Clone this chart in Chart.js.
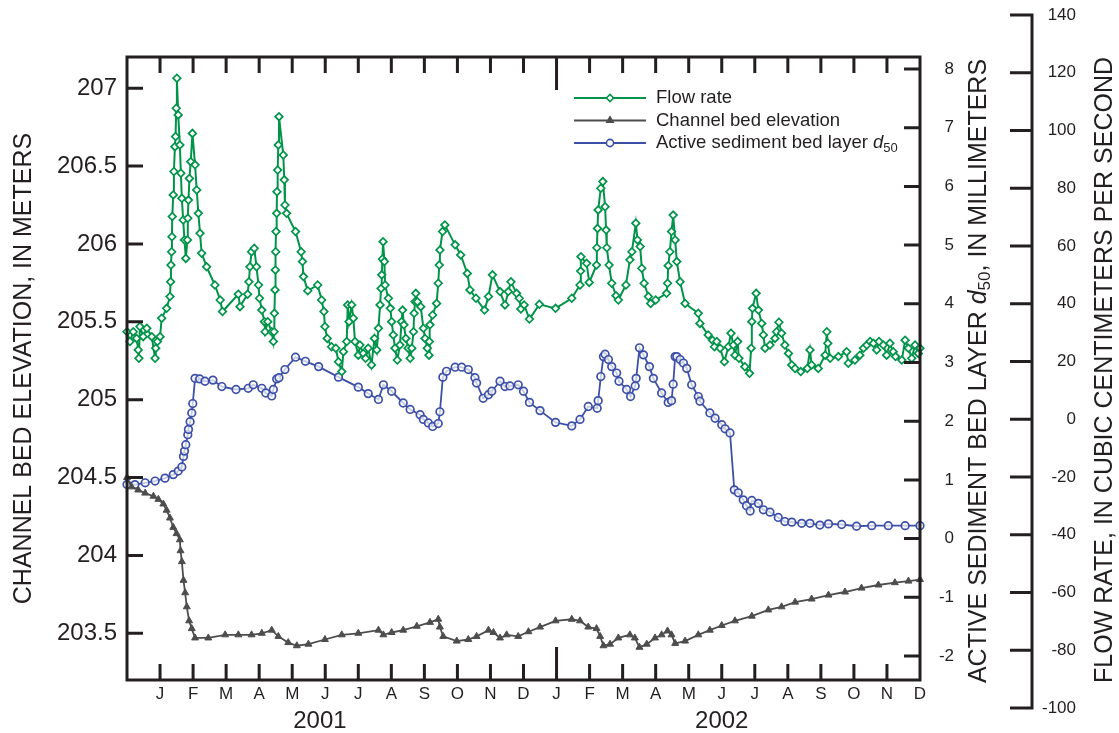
<!DOCTYPE html>
<html>
<head>
<meta charset="utf-8">
<title>Flow rate, channel bed elevation and active layer d50</title>
<script src="https://cdn.jsdelivr.net/npm/chart.js@4.4.1/dist/chart.umd.min.js"></script>
<style>
  html, body { margin: 0; padding: 0; background: #fff; }
  #wrap { width: 1119px; height: 733px; }
</style>
</head>
<body>
<div id="wrap"><canvas id="bedChart" width="1119" height="733"></canvas></div>
<script>
const ink = '#231f20';
const green = '#009449';
const grey = '#4d4d4d';
const blue = '#3d50a8';
const family = '"Liberation Sans", Arial, Helvetica, sans-serif';

Chart.defaults.color = ink;
Chart.defaults.font.family = family;

// x values are months counted from 1 December 2000
const monthTicks = [1, 2, 3, 4, 5, 6, 7, 8, 9, 10, 11, 12, 13, 14, 15, 16, 17, 18, 19, 20, 21, 22, 23, 24];
const monthLetters = ['J', 'F', 'M', 'A', 'M', 'J', 'J', 'A', 'S', 'O', 'N', 'D',
                      'J', 'F', 'M', 'A', 'M', 'J', 'J', 'A', 'S', 'O', 'N', 'D'];
const yearLabels = ['2001', '2002'];
const yearCentres = [5.84, 18.0];

const elevTicks = [203.5, 204, 204.5, 205, 205.5, 206, 206.5, 207];
const d50Ticks = [-2, -1, 0, 1, 2, 3, 4, 5, 6, 7, 8];
const flowTicks = [-100, -80, -60, -40, -20, 0, 20, 40, 60, 80, 100, 120, 140];

// Flow rate, cm3/s
const flowMonth = [
  0.0, 0.09, 0.19, 0.29, 0.34, 0.36, 0.39, 0.49, 0.6, 0.75, 0.85, 0.87, 0.92, 1.0, 1.05, 1.2, 1.3,
  1.32, 1.33, 1.35, 1.36, 1.37, 1.4, 1.42, 1.45, 1.47, 1.49, 1.51, 1.55, 1.6, 1.63, 1.66, 1.7, 1.74,
  1.78, 1.83, 1.84, 1.86, 1.89, 1.93, 1.98, 2.06, 2.11, 2.16, 2.21, 2.26, 2.41, 2.66, 2.82, 2.89,
  3.37, 3.42, 3.65, 3.69, 3.72, 3.77, 3.85, 3.92, 3.98, 4.01, 4.08, 4.16, 4.18, 4.26, 4.38, 4.43,
  4.45, 4.46, 4.48, 4.49, 4.5, 4.51, 4.53, 4.54, 4.56, 4.58, 4.6, 4.73, 4.76, 4.78, 4.83, 5.1, 5.27,
  5.31, 5.34, 5.47, 5.77, 5.89, 5.96, 5.99, 6.06, 6.19, 6.32, 6.4, 6.5, 6.55, 6.65, 6.68, 6.72, 6.8,
  6.85, 6.9, 7.0, 7.05, 7.15, 7.22, 7.3, 7.4, 7.49, 7.56, 7.61, 7.66, 7.69, 7.71, 7.73, 7.75, 7.79,
  7.81, 7.91, 7.97, 8.01, 8.06, 8.11, 8.18, 8.26, 8.31, 8.34, 8.38, 8.44, 8.51, 8.57, 8.62, 8.67,
  8.69, 8.72, 8.74, 8.79, 8.89, 8.97, 9.02, 9.09, 9.14, 9.15, 9.17, 9.25, 9.37, 9.42, 9.45, 9.47,
  9.55, 9.62, 9.93, 10.1, 10.3, 10.38, 10.56, 10.82, 10.94, 11.06, 11.29, 11.44, 11.54, 11.62,
  11.79, 11.87, 11.92, 12.02, 12.18, 12.48, 12.97, 13.46, 13.71, 13.73, 13.74, 13.91, 13.99, 14.21,
  14.22, 14.24, 14.26, 14.34, 14.4, 14.47, 14.5, 14.52, 14.59, 14.67, 14.8, 14.87, 15.1, 15.22,
  15.28, 15.4, 15.45, 15.53, 15.58, 15.65, 15.78, 15.85, 16.0, 16.33, 16.36, 16.38, 16.43, 16.48,
  16.53, 16.59, 16.64, 16.74, 16.89, 17.29, 17.34, 17.59, 17.72, 17.78, 17.85, 17.95, 18.08, 18.2,
  18.28, 18.35, 18.4, 18.48, 18.52, 18.7, 18.84, 18.89, 18.91, 18.93, 19.04, 19.11, 19.21, 19.26,
  19.31, 19.46, 19.61, 19.66, 19.73, 19.81, 19.91, 20.02, 20.12, 20.22, 20.39, 20.59, 20.67, 20.72,
  20.92, 21.13, 21.18, 21.21, 21.28, 21.53, 21.78, 21.83, 22.03, 22.18, 22.29, 22.39, 22.49, 22.59,
  22.69, 22.76, 22.89, 22.99, 23.09, 23.19, 23.26, 23.45, 23.55, 23.65, 23.75, 23.85, 23.95, 24.0
];
const flowRate = [
  30.3, 26.9, 30.3, 28.0, 24.0, 21.1, 32.1, 28.6, 31.5, 28.6, 21.1, 24.6, 26.9, 28.6, 35.0, 38.4, 42.5,
  47.6, 53.4, 58.0, 63.2, 70.2, 77.7, 85.8, 94.4, 97.9, 107.7, 118.1, 105.4, 95.0, 85.2, 76.5, 69.0, 62.1,
  55.7, 62.1, 69.6, 75.9, 83.4, 89.2, 99.0, 88.1, 79.4, 71.3, 64.4, 57.5, 52.8, 46.5, 41.3, 37.3,
  43.3, 39.0, 43.3, 47.6, 52.8, 58.0, 59.2, 52.8, 46.5, 41.9, 37.8, 33.8, 30.3, 33.8, 30.3, 26.9,
  30.3, 36.7, 44.8, 51.7, 58.0, 65.0, 71.3, 78.8, 86.3, 95.0, 104.8, 91.5, 82.9, 74.2, 71.3, 65.0, 58.0,
  54.6, 49.4, 44.5, 46.5, 41.3, 37.3, 32.1, 28.0, 25.1, 24.6, 19.9, 16.5, 23.4, 26.9, 39.6, 33.8, 39.6,
  35.0, 26.9, 22.2, 25.7, 22.8, 21.1, 24.6, 18.8, 28.0, 24.0, 31.5, 39.6, 45.3, 50.0, 55.5, 61.5, 54.6,
  46.5, 41.9, 38.4, 33.8, 29.2, 24.6, 20.5, 25.7, 33.8, 37.8, 32.7, 28.0, 24.6, 21.1, 24.6, 30.3,
  36.7, 40.7, 43.6, 40.7, 39.0, 31.5, 28.0, 24.6, 22.2, 26.9, 32.7, 36.1, 40.1, 47.1, 53.4, 58.6,
  65.0, 67.3, 60.4, 56.9, 50.5, 44.8, 41.9, 37.8, 42.5, 50.0, 44.2, 39.6, 44.2, 47.6,
  43.6, 41.9, 38.2, 39.6, 34.7, 39.8, 38.4, 41.9, 46.5, 51.3, 56.3, 54.0, 47.4, 53.4,
  59.4, 66.1, 72.5, 80.0, 82.3, 73.6, 65.5, 59.4, 53.4, 47.1, 42.8, 41.3, 46.5, 55.2,
  58.0, 67.9, 62.1, 59.8, 52.3, 47.1, 42.5, 40.1, 41.3, 43.6, 47.1, 53.2, 58.0, 65.0,
  70.7, 62.1, 54.6, 47.6, 40.1, 36.7, 33.2, 29.2, 27.4, 25.1, 26.9, 24.6, 19.9, 25.1,
  29.8, 25.7, 22.2, 26.9, 21.1, 18.2, 15.9, 24.6, 33.8, 38.4, 43.6, 37.8, 33.2, 29.2,
  24.6, 25.7, 28.0, 30.3, 33.6, 29.8, 25.7, 22.8, 18.8, 17.6, 16.5, 17.6, 24.0, 18.8,
  17.6, 22.2, 30.3, 26.3, 21.1, 21.7, 23.4, 19.4, 20.5, 22.2, 24.6, 25.7, 26.9, 26.3,
  24.0, 26.9, 25.7, 22.2, 26.3, 23.4, 21.7, 20.5, 27.4, 24.6, 21.1, 25.7, 22.8, 24.6
];

// Channel bed elevation, m
const elevMonth = [
  0.0, 0.14, 0.34, 0.55, 0.8, 0.95, 1.1, 1.2, 1.3, 1.4, 1.5, 1.6, 1.62, 1.66, 1.71, 1.76, 1.81, 1.88,
  1.96, 2.06, 2.46, 2.97, 3.37, 3.77, 4.08, 4.38, 4.58, 4.88, 5.14, 5.49, 5.99, 6.5, 7.0, 7.61, 7.76,
  8.01, 8.36, 8.77, 9.17, 9.42, 9.47, 9.57, 9.98, 10.33, 10.58, 10.94, 11.09, 11.29, 11.49, 11.84,
  12.15, 12.5, 12.97, 13.46, 13.71, 13.96, 14.21, 14.32, 14.42, 14.62, 14.87, 15.22, 15.37, 15.51,
  15.73, 15.98, 16.18, 16.36, 16.48, 16.59, 16.89, 17.29, 17.64, 18.0, 18.4, 18.91, 19.41, 19.81,
  20.22, 20.72, 21.23, 21.73, 22.23, 22.74, 23.24, 23.65, 24.0
];
const elevation = [
  204.50, 204.44, 204.42, 204.40, 204.38, 204.36, 204.33, 204.29, 204.24, 204.18, 204.14, 204.10,
  204.03, 203.96, 203.84, 203.76, 203.67, 203.58, 203.53, 203.47, 203.47, 203.49, 203.49, 203.49,
  203.50, 203.52, 203.48, 203.44, 203.42, 203.43, 203.46, 203.49, 203.50, 203.52, 203.49,
  203.505, 203.52, 203.545, 203.57, 203.59, 203.54, 203.48, 203.45, 203.46, 203.48, 203.52, 203.505,
  203.47, 203.49, 203.48, 203.51, 203.54, 203.58, 203.59, 203.58, 203.54, 203.53, 203.48, 203.42,
  203.43, 203.47, 203.49, 203.47, 203.41, 203.43, 203.47, 203.49, 203.515, 203.49, 203.435, 203.45,
  203.49, 203.52, 203.55, 203.58, 203.61, 203.65, 203.67, 203.70, 203.72, 203.745, 203.765, 203.79,
  203.81, 203.825, 203.835, 203.845
];

// Active sediment bed layer d50, mm
const d50Month = [
  0.0, 0.24, 0.55, 0.85, 1.15, 1.4, 1.55, 1.66, 1.71, 1.74, 1.78, 1.84, 1.86, 1.91, 1.96, 1.99, 2.06,
  2.2, 2.36, 2.6, 2.87, 3.3, 3.67, 3.82, 4.08, 4.2, 4.38, 4.43, 4.53, 4.6, 4.78, 5.1, 5.4, 5.8, 6.4,
  7.0, 7.3, 7.61, 7.76, 8.01, 8.36, 8.57, 8.87, 8.97, 9.12, 9.25, 9.42, 9.47, 9.56, 9.67, 9.93, 10.13,
  10.33, 10.53, 10.58, 10.78, 10.94, 11.04, 11.29, 11.44, 11.59, 11.84, 12.0, 12.18, 12.5, 12.97,
  13.46, 13.71, 13.96, 14.23, 14.26, 14.34, 14.42, 14.47, 14.57, 14.67, 14.82, 14.89, 15.12, 15.24,
  15.38, 15.41, 15.51, 15.63, 15.81, 15.93, 16.18, 16.38, 16.48, 16.53, 16.59, 16.64, 16.74, 16.84,
  16.94, 17.09, 17.29, 17.34, 17.64, 17.8, 18.0, 18.1, 18.25, 18.38, 18.5, 18.65, 18.75, 18.86,
  18.91, 19.11, 19.26, 19.46, 19.71, 19.91, 20.12, 20.42, 20.67, 20.97, 21.23, 21.63, 22.08, 22.54,
  23.04, 23.55, 24.0
];
const d50 = [
  0.92, 0.92, 0.95, 0.98, 1.03, 1.09, 1.15, 1.22, 1.40, 1.49, 1.60, 1.77, 1.86, 1.99, 2.14, 2.30, 2.73,
  2.72, 2.68, 2.70, 2.59, 2.54, 2.56, 2.62, 2.56, 2.48, 2.43, 2.54, 2.72, 2.74, 2.88, 3.09, 3.02, 2.93, 2.75,
  2.58, 2.47, 2.37, 2.62, 2.51, 2.31, 2.20, 2.11, 2.03, 1.97, 1.91, 1.96, 2.16, 2.75, 2.85, 2.92, 2.92,
  2.88, 2.74, 2.65, 2.39, 2.45, 2.51, 2.68, 2.59, 2.60, 2.62, 2.51, 2.32, 2.18, 1.98,
  1.92, 2.03, 2.25, 2.22, 2.35, 2.76, 3.10, 3.14, 3.05, 2.93, 2.82, 2.68, 2.54, 2.42,
  2.60, 2.73, 3.25, 3.13, 2.93, 2.73, 2.48, 2.32, 2.35, 2.63, 3.10, 3.10, 3.05, 2.99,
  2.90, 2.62, 2.42, 2.34, 2.14, 2.05, 1.94, 1.87, 1.80, 0.83, 0.78, 0.66, 0.56, 0.47,
  0.65, 0.60, 0.49, 0.45, 0.36, 0.29, 0.28, 0.26, 0.26, 0.23, 0.25, 0.24, 0.21, 0.22,
  0.22, 0.22, 0.22
];

const toPoints = (xs, ys) => xs.map((x, i) => ({ x: x, y: ys[i] }));

// draws a run of text pieces (normal, italic, subscript) along one baseline
function drawRich(ctx, parts, cx, cy, angle, centred) {
  ctx.save();
  ctx.translate(cx, cy);
  ctx.rotate(angle);
  ctx.textBaseline = 'middle';
  ctx.textAlign = 'left';
  let total = 0;
  parts.forEach(p => { ctx.font = p.font; p.w = ctx.measureText(p.text).width; total += p.w; });
  let x = centred ? -total / 2 : 0;
  parts.forEach(p => { ctx.font = p.font; ctx.fillText(p.text, x, p.dy || 0); x += p.w; });
  ctx.restore();
}

const f = (size, style) => (style ? style + ' ' : '') + size + 'px ' + family;

const legendRows = [
  { parts: [{ text: 'Flow rate', font: f(18.5) }], color: green, style: 'rectRot', fill: '#fff' },
  { parts: [{ text: 'Channel bed elevation', font: f(18.5) }], color: grey, style: 'triangle', fill: grey },
  { parts: [{ text: 'Active sediment bed layer ', font: f(18.5) },
            { text: 'd', font: f(18.5, 'italic') },
            { text: '50', font: f(13), dy: 5 }], color: blue, style: 'circle', fill: '#fff' }
];

// frame, inward ticks, detached flow axis, year labels, right titles and legend
const axisDecor = {
  id: 'axisDecor',
  afterDraw(chart) {
    const { ctx, chartArea: a, scales } = chart;
    const xs = scales.x, ye = scales.y, yd = scales.yD, yf = scales.yF;
    ctx.save();
    ctx.strokeStyle = ink;
    ctx.lineWidth = 3;
    ctx.strokeRect(a.left, a.top, a.right - a.left, a.bottom - a.top);

    ctx.beginPath();
    monthTicks.forEach(m => {
      if (m >= 24) return;
      const px = xs.getPixelForValue(m);
      const len = m === 13 ? 33 : 16;
      ctx.moveTo(px, a.bottom); ctx.lineTo(px, a.bottom - len);
      ctx.moveTo(px, a.top); ctx.lineTo(px, a.top + len);
    });
    elevTicks.forEach(v => {
      const py = ye.getPixelForValue(v);
      ctx.moveTo(a.left, py); ctx.lineTo(a.left + 16, py);
    });
    d50Ticks.forEach(v => {
      const py = yd.getPixelForValue(v);
      ctx.moveTo(a.right, py); ctx.lineTo(a.right - 16, py);
    });
    ctx.stroke();

    // flow rate axis, offset to the right of the plot
    const fx = a.right + 112;
    ctx.beginPath();
    ctx.moveTo(fx, yf.getPixelForValue(flowTicks[0]) + 1.5);
    ctx.lineTo(fx, yf.getPixelForValue(flowTicks[flowTicks.length - 1]) - 1.5);
    flowTicks.forEach(v => {
      const py = yf.getPixelForValue(v);
      ctx.moveTo(fx, py); ctx.lineTo(fx - 22, py);
    });
    ctx.stroke();

    ctx.fillStyle = ink;
    ctx.font = f(17);
    ctx.textAlign = 'right';
    ctx.textBaseline = 'middle';
    flowTicks.forEach(v => ctx.fillText(String(v), fx + 44, yf.getPixelForValue(v)));

    ctx.font = f(24);
    ctx.textAlign = 'center';
    yearLabels.forEach((t, i) => ctx.fillText(t, xs.getPixelForValue(yearCentres[i]), a.bottom + 41));

    drawRich(ctx, [
      { text: 'ACTIVE SEDIMENT BED LAYER ', font: f(25) },
      { text: 'd', font: f(25, 'italic') },
      { text: '50', font: f(17), dy: 6 },
      { text: ', IN MILLIMETERS', font: f(25) }
    ], a.right + 59, 371, -Math.PI / 2, true);
    drawRich(ctx, [{ text: 'FLOW RATE, IN CUBIC CENTIMETERS PER SECOND', font: f(25) }],
      a.right + 185, 370, -Math.PI / 2, true);

    legendRows.forEach((row, i) => {
      const y = 98 + i * 22.5;
      ctx.strokeStyle = row.color;
      ctx.lineWidth = 1.8;
      ctx.beginPath();
      ctx.moveTo(574, y); ctx.lineTo(646, y);
      ctx.stroke();
      ctx.fillStyle = row.fill;
      ctx.lineWidth = 1.6;
      Chart.helpers.drawPoint(ctx, { pointStyle: row.style, radius: 3.6, rotation: 0, borderWidth: 1.6 }, 610, y);
      ctx.fillStyle = ink;
      drawRich(ctx, row.parts, 656, y, 0, false);
    });
    ctx.restore();
  }
};

const ctx = document.getElementById('bedChart').getContext('2d');
new Chart(ctx, {
  type: 'scatter',
  data: {
    datasets: [
      {
        label: 'Flow rate',
        data: toPoints(flowMonth, flowRate),
        yAxisID: 'yF',
        showLine: true,
        borderColor: green,
        borderWidth: 2,
        pointStyle: 'rectRot',
        pointRadius: 3.8,
        pointBorderWidth: 1.7,
        pointBorderColor: green,
        pointBackgroundColor: '#fff',
        clip: false
      },
      {
        label: 'Channel bed elevation',
        data: toPoints(elevMonth, elevation),
        yAxisID: 'y',
        showLine: true,
        borderColor: grey,
        borderWidth: 1.8,
        pointStyle: 'triangle',
        pointRadius: 4,
        pointBorderWidth: 1,
        pointBorderColor: grey,
        pointBackgroundColor: grey,
        clip: false
      },
      {
        label: 'Active sediment bed layer d50',
        data: toPoints(d50Month, d50),
        yAxisID: 'yD',
        showLine: true,
        borderColor: blue,
        borderWidth: 1.8,
        pointStyle: 'circle',
        pointRadius: 3.8,
        pointBorderWidth: 1.7,
        pointBorderColor: blue,
        pointBackgroundColor: 'rgba(255,255,255,0.7)',
        clip: false
      }
    ]
  },
  options: {
    responsive: false,
    animation: false,
    devicePixelRatio: 1,
    layout: { padding: { top: 57, left: 0, right: 0, bottom: 0 } },
    plugins: { legend: { display: false }, tooltip: { enabled: false } },
    scales: {
      x: {
        type: 'linear',
        position: 'bottom',
        min: 0,
        max: 24,
        afterBuildTicks: s => { s.ticks = monthTicks.map(v => ({ value: v })); },
        ticks: {
          autoSkip: false,
          maxRotation: 0,
          padding: 4,
          font: { size: 17 },
          color: ink,
          callback: v => monthLetters[v - 1]
        },
        grid: { display: false, drawTicks: false },
        border: { display: false },
        afterFit: s => { s.height = 53; }
      },
      y: {
        position: 'left',
        min: 203.2,
        max: 207.2,
        afterBuildTicks: s => { s.ticks = elevTicks.map(v => ({ value: v })); },
        ticks: { padding: 10, font: { size: 24 }, color: ink, callback: v => String(v) },
        grid: { display: false, drawTicks: false },
        border: { display: false },
        title: {
          display: true,
          text: 'CHANNEL BED ELEVATION, IN METERS',
          font: { size: 25 },
          color: ink,
          padding: { top: 9, bottom: 0 }
        },
        afterFit: s => { s.width = 127; }
      },
      yD: {
        position: 'right',
        min: -2.409,
        max: 8.204,
        afterBuildTicks: s => { s.ticks = d50Ticks.map(v => ({ value: v })); },
        ticks: { crossAlign: 'far', padding: 4, font: { size: 17 }, color: ink, callback: v => String(v) },
        grid: { display: false, drawTicks: false },
        border: { display: false },
        afterFit: s => { s.width = 34; }
      },
      yF: {
        position: 'right',
        min: -90.30,
        max: 125.45,
        ticks: { display: false },
        grid: { display: false, drawTicks: false },
        border: { display: false },
        afterFit: s => { s.width = 165; }
      }
    }
  },
  plugins: [axisDecor]
});
</script>
</body>
</html>
